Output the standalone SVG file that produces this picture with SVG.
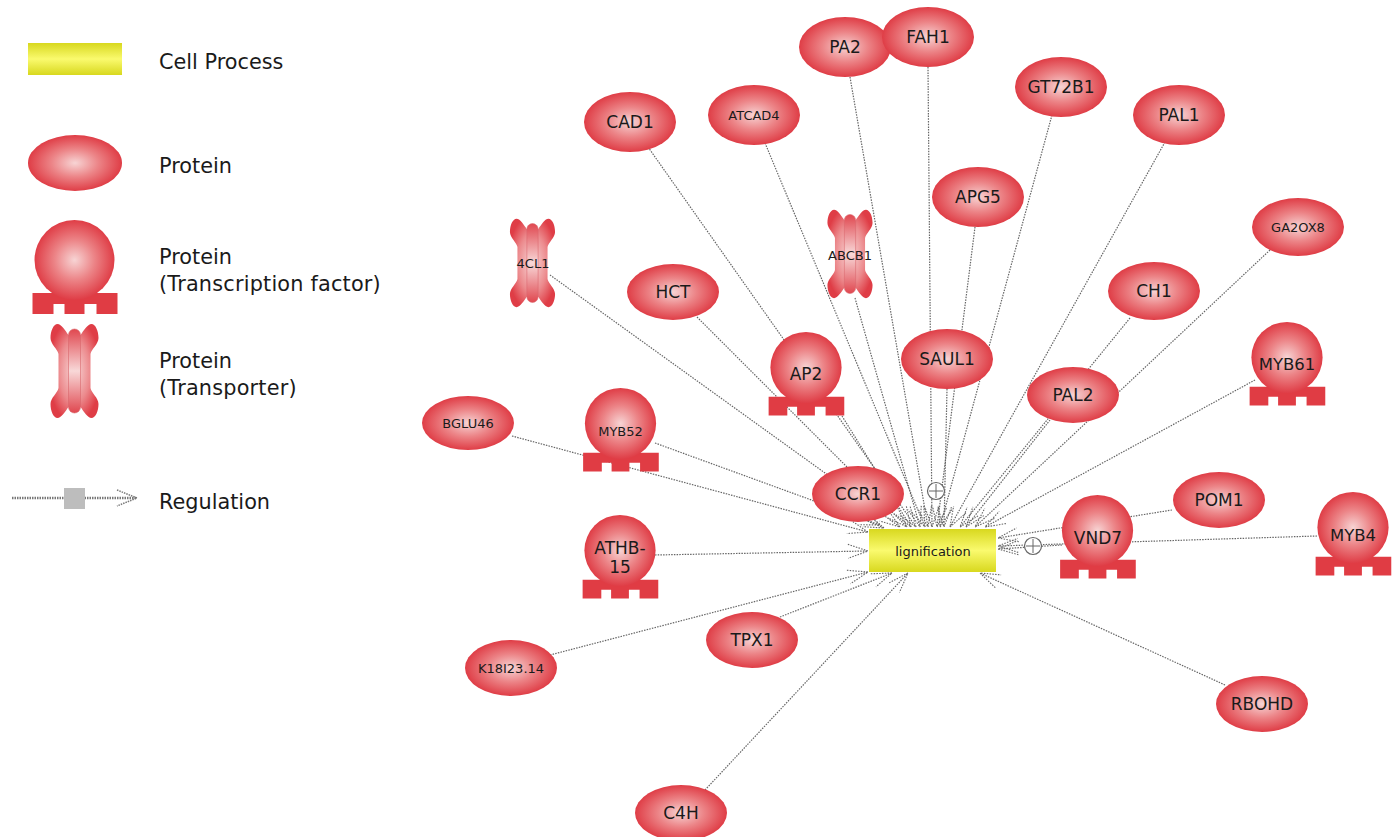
<svg xmlns="http://www.w3.org/2000/svg" xmlns:xlink="http://www.w3.org/1999/xlink" width="1398" height="837" viewBox="0 0 1398 837">
<style>
text{font-family:"DejaVu Sans","Liberation Sans",sans-serif;fill:#1a1a1a;text-anchor:middle;dominant-baseline:central}
.leg{font-size:20.8px;text-anchor:start;dominant-baseline:auto}
.wide{letter-spacing:.2px}
.n{font-size:17px}.s{font-size:13px}
.e{fill:url(#red)}
.c line{stroke:#666;stroke-width:1.2;stroke-dasharray:1.5 1.2;fill:none;marker-end:url(#arr)}
.plus{fill:#fff;stroke:#666;stroke-width:1.2}
</style>
<defs>
<radialGradient id="red"><stop offset="0" stop-color="#f7d4d4"/><stop offset=".5" stop-color="#ec8487"/><stop offset="1" stop-color="#df3d46"/></radialGradient>
<linearGradient id="yel" x1="0" y1="0" x2="0" y2="1"><stop offset="0" stop-color="#d8d81e"/><stop offset=".5" stop-color="#fafa6e"/><stop offset="1" stop-color="#d8d81e"/></linearGradient>
<radialGradient id="trb" r=".55"><stop offset="0" stop-color="#f8d8d8"/><stop offset=".6" stop-color="#ec8a8d"/><stop offset="1" stop-color="#df3d46"/></radialGradient>
<linearGradient id="trc" x1="0" y1="0" x2="0" y2="1"><stop offset="0" stop-color="#e0474f"/><stop offset=".5" stop-color="#f8d8d8"/><stop offset="1" stop-color="#e0474f"/></linearGradient>
<marker id="arr" markerUnits="userSpaceOnUse" markerWidth="24" markerHeight="20" refX="22" refY="10" orient="auto"><path d="M2,3 L22,10 L2,17" fill="none" stroke="#666" stroke-width="1.1" stroke-dasharray="1.5 1.3"/></marker>
<g id="tf"><path d="M-42,33 H43 V54 H22 V44 H10 V54 H-10 V44 H-21 V54 H-42Z" fill="#e03c44"/><circle r="40" fill="url(#red)"/></g>
<g id="tr"><path d="M-6,-36 C-9,-40 -13,-47 -17,-47 C-21,-47 -24,-40 -24,-33 C-24,-27 -17,-22 -16,-17 V17 C-17,22 -24,27 -24,33 C-24,40 -21,47 -17,47 C-13,47 -9,40 -6,36 L6,36 C9,40 13,47 17,47 C21,47 24,40 24,33 C24,27 17,22 16,17 V-17 C17,-22 24,-27 24,-33 C24,-40 21,-47 17,-47 C13,-47 9,-40 6,-36Z" fill="url(#trb)"/><rect x="-6" y="-42" width="12" height="84" rx="6" fill="url(#trc)" stroke="#d9666c" stroke-width=".6"/></g>
</defs>
<g id="legend">
<rect x="28" y="43" width="94" height="32" fill="url(#yel)"/>
<text class="leg" x="159" y="69">Cell Process</text>
<ellipse class="e" cx="75" cy="163" rx="47" ry="28"/>
<text class="leg" x="159" y="173">Protein</text>
<use href="#tf" x="74.500" y="260"/>
<text class="leg" x="159" y="264">Protein</text>
<text class="leg wide" x="159" y="291">(Transcription factor)</text>
<use href="#tr" x="74.500" y="371"/>
<text class="leg" x="159" y="368">Protein</text>
<text class="leg wide" x="159" y="395">(Transporter)</text>
<line x1="12" y1="498" x2="137" y2="498" stroke="#777" stroke-width="2.500" stroke-dasharray="1.5 1"/>
<path d="M117,490 L137,498 L117,506" fill="none" stroke="#777" stroke-width="1.500" stroke-dasharray="1.5 1"/>
<rect x="64" y="488" width="21" height="21" fill="#bdbdbd"/>
<text class="leg" x="159" y="509">Regulation</text>
</g>
<g id="connectors" class="c">
<line x1="648" y1="147" x2="916" y2="527"/>
<line x1="765" y1="143" x2="925" y2="527"/>
<line x1="850" y1="77" x2="928" y2="527"/>
<line x1="928" y1="67" x2="932" y2="527"/>
<line x1="1052" y1="115" x2="940" y2="527"/>
<line x1="1165" y1="142" x2="950" y2="527"/>
<line x1="975" y1="227" x2="937" y2="527"/>
<line x1="947" y1="389" x2="944" y2="527"/>
<line x1="1270" y1="250" x2="975" y2="527"/>
<line x1="1130" y1="318" x2="960" y2="527"/>
<line x1="1050" y1="420" x2="966" y2="527"/>
<line x1="1255" y1="380" x2="985" y2="527"/>
<line x1="855" y1="298" x2="920" y2="527"/>
<line x1="697" y1="317" x2="907" y2="527"/>
<line x1="550" y1="275" x2="900" y2="527"/>
<line x1="842" y1="416" x2="911" y2="527"/>
<line x1="655" y1="443" x2="880" y2="525"/>
<line x1="512" y1="436" x2="868" y2="532"/>
<line x1="865" y1="520" x2="884" y2="528"/>
<line x1="655" y1="555" x2="868" y2="551"/>
<line x1="550" y1="655" x2="868" y2="572"/>
<line x1="780" y1="617" x2="892" y2="573"/>
<line x1="705" y1="790" x2="908" y2="573"/>
<line x1="1225" y1="685" x2="980" y2="573"/>
<line x1="1062" y1="545" x2="998" y2="549"/>
<line x1="1172" y1="510" x2="998" y2="538"/>
<line x1="1317" y1="536" x2="998" y2="546"/>
</g>
<g id="plus1"><circle class="plus" cx="936" cy="491" r="8.500"/><path d="M936,484V498M929,491H943" stroke="#666" fill="none"/></g>
<g id="plus2"><circle class="plus" cx="1033" cy="546" r="8.500"/><path d="M1033,539V553M1026,546H1040" stroke="#666" fill="none"/></g>
<g id="lignification"><rect x="869" y="529" width="127" height="43" fill="url(#yel)"/><text x="933" y="551" font-size="13">lignification</text></g>
<g id="PA2"><ellipse class="e" cx="845" cy="47" rx="46" ry="30"/><text class="n" x="845" y="47">PA2</text></g>
<g id="FAH1"><ellipse class="e" cx="928" cy="37" rx="46" ry="30"/><text class="n" x="928" y="37">FAH1</text></g>
<g id="GT72B1"><ellipse class="e" cx="1061" cy="87" rx="46" ry="30"/><text class="n" x="1061" y="87">GT72B1</text></g>
<g id="PAL1"><ellipse class="e" cx="1179" cy="115" rx="46" ry="30"/><text class="n" x="1179" y="115">PAL1</text></g>
<g id="CAD1"><ellipse class="e" cx="630" cy="122" rx="46" ry="30"/><text class="n" x="630" y="122">CAD1</text></g>
<g id="ATCAD4"><ellipse class="e" cx="754" cy="115" rx="46" ry="30"/><text class="s" x="754" y="115">ATCAD4</text></g>
<g id="APG5"><ellipse class="e" cx="978" cy="197" rx="46" ry="30"/><text class="n" x="978" y="197">APG5</text></g>
<g id="GA2OX8"><ellipse class="e" cx="1298" cy="227" rx="46" ry="29"/><text class="s" x="1298" y="227">GA2OX8</text></g>
<g id="HCT"><ellipse class="e" cx="673" cy="292" rx="46" ry="28"/><text class="n" x="673" y="292">HCT</text></g>
<g id="CH1"><ellipse class="e" cx="1154" cy="291" rx="46" ry="29"/><text class="n" x="1154" y="291">CH1</text></g>
<g id="SAUL1"><ellipse class="e" cx="947" cy="359" rx="46" ry="30"/><text class="n" x="947" y="359">SAUL1</text></g>
<g id="PAL2"><ellipse class="e" cx="1073" cy="395" rx="46" ry="28"/><text class="n" x="1073" y="395">PAL2</text></g>
<g id="BGLU46"><ellipse class="e" cx="468" cy="423" rx="46" ry="27"/><text class="s" x="468" y="423">BGLU46</text></g>
<g id="CCR1"><ellipse class="e" cx="858" cy="494" rx="46" ry="28"/><text class="n" x="858" y="494">CCR1</text></g>
<g id="POM1"><ellipse class="e" cx="1219" cy="500" rx="46" ry="28"/><text class="n" x="1219" y="500">POM1</text></g>
<g id="TPX1"><ellipse class="e" cx="752" cy="640" rx="46" ry="28"/><text class="n" x="752" y="640">TPX1</text></g>
<g id="K18I23.14"><ellipse class="e" cx="511" cy="668" rx="46" ry="28"/><text x="511" y="668" font-size="13">K18I23.14</text></g>
<g id="RBOHD"><ellipse class="e" cx="1262" cy="704" rx="46" ry="28"/><text class="n" x="1262" y="704">RBOHD</text></g>
<g id="C4H"><ellipse class="e" cx="681" cy="813" rx="46" ry="28"/><text class="n" x="681" y="813">C4H</text></g>
<g id="AP2"><use href="#tf" transform="translate(806,367.500) scale(.89)"/><text class="n" x="806" y="374">AP2</text></g>
<g id="MYB52"><use href="#tf" transform="translate(620.500,423.500) scale(.89)"/><text class="s" x="620.500" y="431">MYB52</text></g>
<g id="ATHB-15"><use href="#tf" transform="translate(620,550.500) scale(.89)"/><text class="n" x="620" y="548">ATHB-</text><text class="n" x="620" y="567">15</text></g>
<g id="MYB61"><use href="#tf" transform="translate(1287,357.500) scale(.89)"/><text x="1287" y="364" font-size="16.500">MYB61</text></g>
<g id="VND7"><use href="#tf" transform="translate(1097.500,530.500) scale(.89)"/><text class="n" x="1098" y="538">VND7</text></g>
<g id="MYB4"><use href="#tf" transform="translate(1353,527.500) scale(.89)"/><text x="1353" y="535" font-size="16.500">MYB4</text></g>
<g id="4CL1"><use href="#tr" transform="translate(532.500,263) scale(.94)"/><text class="s" x="533" y="263">4CL1</text></g>
<g id="ABCB1"><use href="#tr" transform="translate(850,254) scale(.94)"/><text class="s" x="850" y="255">ABCB1</text></g>
</svg>
